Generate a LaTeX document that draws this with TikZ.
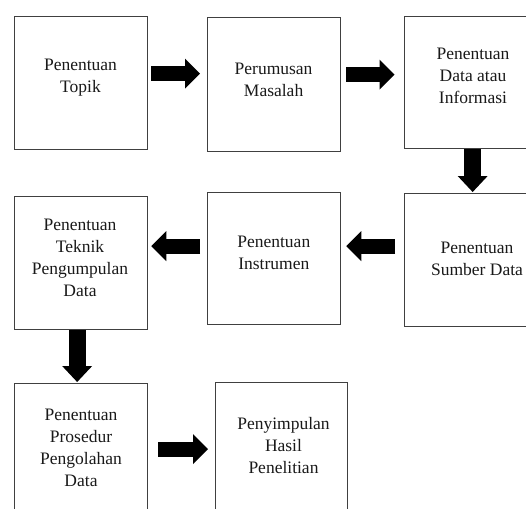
\documentclass[tikz,border=0pt]{standalone}
\usepackage{fontspec}
\setmainfont{Liberation Serif}
\usetikzlibrary{arrows.meta}
\newcommand{\stacklines}[1]{\begin{tabular}[t]{@{}c@{}}#1\end{tabular}}
\begin{document}
\begin{tikzpicture}[x=1pt,y=-1pt,
  box/.style={draw=black!75,line width=1.3pt,fill=white,inner sep=0pt,anchor=north west},
  label/.style={anchor=base,inner sep=0pt,font=\fontsize{17.5}{22}\selectfont,text=black!90},
  blockarrow/.style={line width=15pt,-{Triangle[width=30pt,length=15pt,line width=0pt]}},
  vblockarrow/.style={line width=17pt,-{Triangle[width=30pt,length=16pt,line width=0pt]}}]
\clip (0,0) rectangle (526,508);
\fill[white] (0,0) rectangle (526,508);
% boxes
\node[box,minimum width=133pt,minimum height=133pt] (b1) at (14,16) {};
\node[box,minimum width=133pt,minimum height=134pt] (b2) at (207,17) {};
\node[box,minimum width=140pt,minimum height=132pt] (b3) at (404,16) {};
\node[box,minimum width=133pt,minimum height=133pt] (b4) at (14,196) {};
\node[box,minimum width=133pt,minimum height=132pt] (b5) at (207,192) {};
\node[box,minimum width=140pt,minimum height=133pt] (b6) at (404,193) {};
\node[box,minimum width=133pt,minimum height=140pt] (b7) at (14,383) {};
\node[box,minimum width=132pt,minimum height=140pt] (b8) at (215,382) {};
% texts
\node[label] (t1) at (80.5,70.7) {\stacklines{Penentuan\\Topik}};
\node[label] (t2) at (273.6,74.5) {\stacklines{Perumusan\\Masalah}};
\node[label] (t3) at (473,59.5) {\stacklines{Penentuan\\Data atau\\Informasi}};
\node[label] (t4) at (80,230.5) {\stacklines{Penentuan\\Teknik\\Pengumpulan\\Data}};
\node[label] (t5) at (273.8,247.3) {\stacklines{Penentuan\\Instrumen}};
\node[label] (t6) at (477,253.3) {\stacklines{Penentuan\\Sumber Data}};
\node[label] (t7) at (81,420) {\stacklines{Penentuan\\Prosedur\\Pengolahan\\Data}};
\node[label] (t8) at (283.5,429.3) {\stacklines{Penyimpulan\\Hasil\\Penelitian}};
% arrow end points
\coordinate (a1s) at ([xshift=3pt,yshift=9.5pt]b1.east);
\coordinate (a1e) at ([xshift=-7pt]b2.west);
\coordinate (a2s) at ([xshift=5pt,yshift=10pt]b2.east);
\coordinate (a2e) at ([xshift=-9.5pt]b3.west);
\coordinate (a3s) at ([xshift=-2pt]b3.south);
\coordinate (a3e) at ([yshift=1pt]b6.north);
\coordinate (a4s) at ([xshift=-9pt,yshift=14pt]b6.west);
\coordinate (a4e) at ([xshift=5pt]b5.east);
\coordinate (a5s) at ([xshift=-7pt]b5.west |- a4s);
\coordinate (a5e) at ([xshift=3pt]b4.east);
\coordinate (a6s) at ([xshift=-4pt]b4.south);
\coordinate (a6e) at ([yshift=1pt]b7.north);
\coordinate (a7s) at ([xshift=10pt,yshift=4.5pt]b7.east);
\coordinate (a7e) at ([xshift=-7pt]b8.west);
% arrows
\draw[blockarrow] (a1s) -- (a1s -| a1e);
\draw[blockarrow] (a2s) -- (a2s -| a2e);
\draw[vblockarrow] (a3s) -- (a3s |- a3e);
\draw[blockarrow] (a4s) -- (a4s -| a4e);
\draw[blockarrow] (a5s) -- (a5s -| a5e);
\draw[vblockarrow] (a6s) -- (a6s |- a6e);
\draw[blockarrow] (a7s) -- (a7s -| a7e);
\end{tikzpicture}
\end{document}
